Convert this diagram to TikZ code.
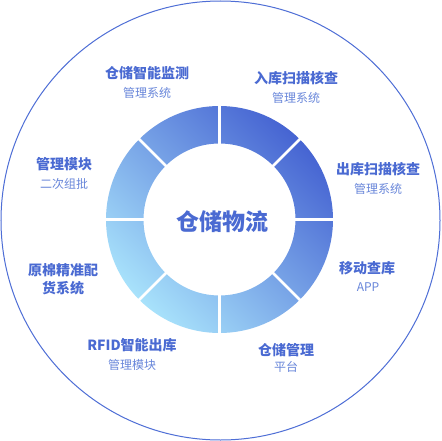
\documentclass[tikz,border=0pt]{standalone}
\usepackage{fontspec}
\setmainfont{Noto Sans CJK SC}
\definecolor{ringdark}{RGB}{70,100,210}
\definecolor{ringlight}{RGB}{168,226,251}
\definecolor{titleblue}{RGB}{74,106,210}
\definecolor{subblue}{RGB}{104,134,218}
\definecolor{rimblue}{RGB}{78,110,214}
\tikzset{
  ttl/.style={text=titleblue, font=\fontsize{14}{16}\selectfont\bfseries, inner sep=0pt},
  sub/.style={text=subblue, font=\fontsize{12}{14}\selectfont, inner sep=0pt},
  gap/.style={white, line width=2.6pt},
}
\begin{document}
\begin{tikzpicture}[x=1pt,y=-1pt]
\useasboundingbox (0,0) rectangle (441,441);
\coordinate (c) at (219.5,219.5);
\fill[white] (0,0) rectangle (441,441);
\draw[rimblue, line width=1pt] (220.5,220.5) circle[radius=219.5pt];
\shade[even odd rule, top color=ringdark, bottom color=ringlight, shading angle=-45]
  (c) circle[radius=113.5pt] (c) circle[radius=76pt];
\foreach \a in {0,45,...,315}
  \draw[gap, shift={(c)}] (\a:73pt) -- (\a:117pt);
\node[text=titleblue, font=\fontsize{23}{26}\selectfont\bfseries, inner sep=0pt] (center) at (222,222) {仓储物流};
\node[ttl] (t1) at (147,73) {仓储智能监测};
\node[sub] (s1) at (147,93) {管理系统};
\node[ttl] (t2) at (296,78) {入库扫描核查};
\node[sub] (s2) at (296,98) {管理系统};
\node[ttl] (t3) at (378,169) {出库扫描核查};
\node[sub] (s3) at (378,189) {管理系统};
\node[ttl] (t4) at (367,268) {移动查库};
\node[sub] (s4) at (368,287) {APP};
\node[ttl] (t5) at (286,350) {仓储管理};
\node[sub] (s5) at (286,367) {平台};
\node[ttl] (t6) at (132,345) {RFID智能出库};
\node[sub] (s6) at (132,365) {管理模块};
\node[ttl] (t7) at (63,270) {原棉精准配};
\node[ttl] (t7b) at (63,288) {货系统};
\node[ttl] (t8) at (64,164) {管理模块};
\node[sub] (s8) at (64,184) {二次组批};
\end{tikzpicture}
\end{document}
